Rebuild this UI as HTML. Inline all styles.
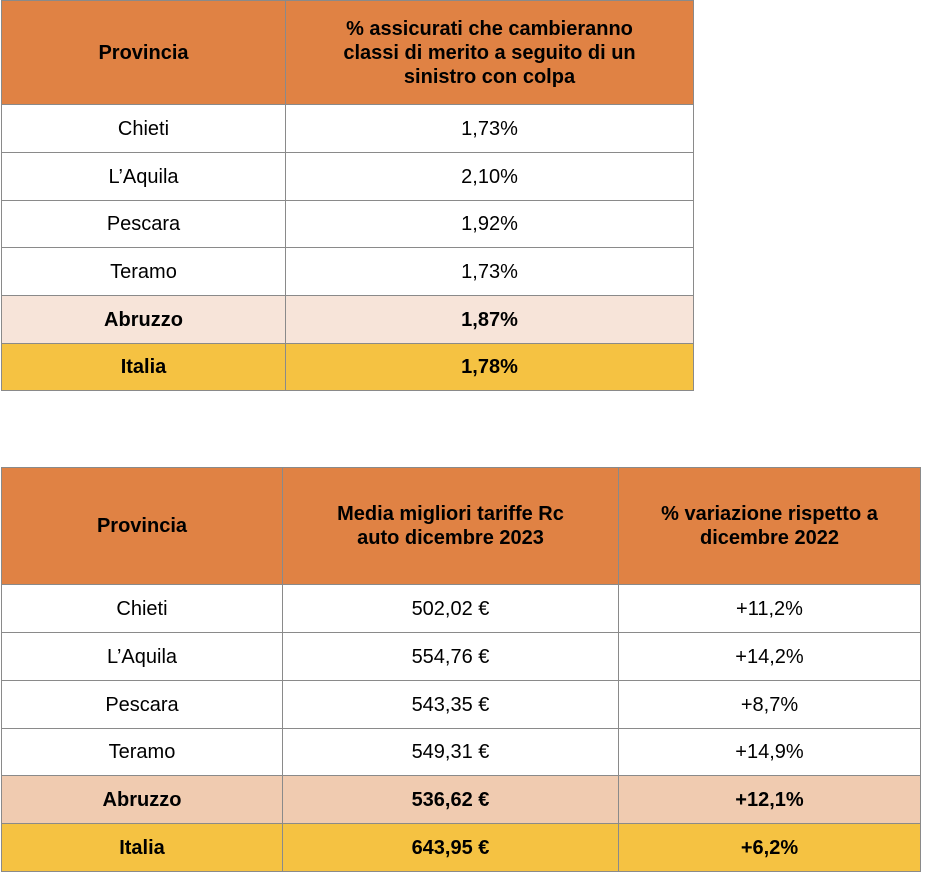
<!DOCTYPE html>
<html><head><meta charset="utf-8">
<style>
body{margin:0;width:946px;height:876px;background:#fff;position:relative;font-family:"Liberation Sans",sans-serif;color:#000}
table{position:absolute;border-collapse:collapse;table-layout:fixed}
td{border:1px solid #8a8a8a;text-align:center;vertical-align:middle;font-size:20px;padding:0;line-height:1.2}
.h td{background:#e08244;font-weight:bold}
.ab td{font-weight:bold}
.it td{background:#f5c242;font-weight:bold}
#t1 .ab td{background:#f7e4d9}
#t2 .ab td{background:#f0cbb0}
</style></head><body>
<table id="t1" style="left:1px;top:0px;width:692px">
<colgroup><col style="width:284px"><col style="width:408px"></colgroup>
<tr class="h" style="height:104px"><td>Provincia</td><td>% assicurati che cambieranno<br>classi di merito a seguito di un<br>sinistro con colpa</td></tr>
<tr style="height:48px"><td>Chieti</td><td>1,73%</td></tr>
<tr style="height:48px"><td>L’Aquila</td><td>2,10%</td></tr>
<tr style="height:47px"><td>Pescara</td><td>1,92%</td></tr>
<tr style="height:48px"><td>Teramo</td><td>1,73%</td></tr>
<tr class="ab" style="height:48px"><td>Abruzzo</td><td>1,87%</td></tr>
<tr class="it" style="height:47px"><td>Italia</td><td>1,78%</td></tr>
</table>
<table id="t2" style="left:1px;top:467px;width:919px">
<colgroup><col style="width:281px"><col style="width:336px"><col style="width:302px"></colgroup>
<tr class="h" style="height:117px"><td>Provincia</td><td>Media migliori tariffe Rc<br>auto dicembre 2023</td><td>% variazione rispetto a<br>dicembre 2022</td></tr>
<tr style="height:48px"><td>Chieti</td><td>502,02 €</td><td>+11,2%</td></tr>
<tr style="height:48px"><td>L’Aquila</td><td>554,76 €</td><td>+14,2%</td></tr>
<tr style="height:48px"><td>Pescara</td><td>543,35 €</td><td>+8,7%</td></tr>
<tr style="height:47px"><td>Teramo</td><td>549,31 €</td><td>+14,9%</td></tr>
<tr class="ab" style="height:48px"><td>Abruzzo</td><td>536,62 €</td><td>+12,1%</td></tr>
<tr class="it" style="height:48px"><td>Italia</td><td>643,95 €</td><td>+6,2%</td></tr>
</table>
</body></html>
